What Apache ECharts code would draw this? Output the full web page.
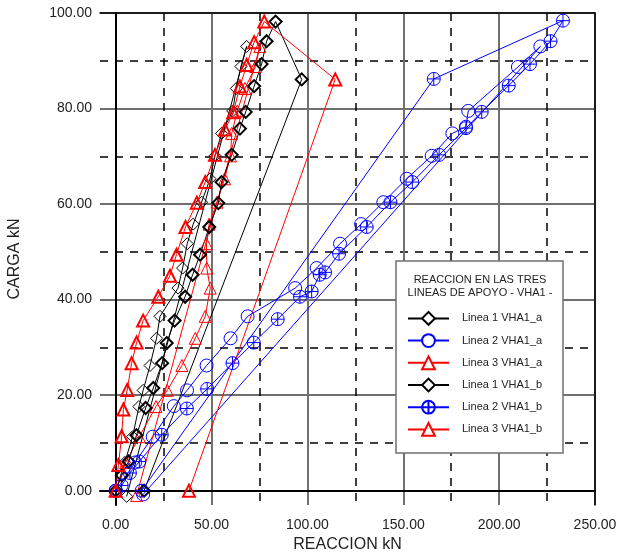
<!DOCTYPE html>
<html>
<head>
<meta charset="utf-8">
<script src="https://cdn.jsdelivr.net/npm/echarts@6/dist/echarts.min.js"></script>
<style>
  html, body { margin: 0; padding: 0; background: #fff; }
  #chart { width: 619px; height: 554px; }
</style>
</head>
<body>
<div id="chart"></div>
<script>
// Linea 1 VHA1_a (black, thin diamonds)
const linea1aX = [0, 4.7, 8.8, 12.1, 14.3, 17.9, 21.3, 23.1, 32.5, 34.9, 37.3, 40.4, 44.8, 49.2, 51.8, 55.2, 61, 62.9, 65.3, 68.3, 5.7];
const linea1aY = [0, 5.9, 11.3, 17.6, 21.0, 26.2, 31.9, 36.5, 42.4, 46.6, 51.7, 55.8, 60.4, 65.3, 70.1, 74.8, 79.5, 84.2, 88.8, 93.0, -1.2];

// Linea 2 VHA1_a (blue, circles)
const linea2aX = [0, 10.1, 19.3, 30.3, 37.2, 47.4, 59.9, 68.8, 93.6, 104.8, 117, 128, 139.6, 151.8, 164.8, 175.6, 182.7, 183.9, 209.8, 221.5, 14.3];
const linea2aY = [0, 5.9, 11.3, 17.7, 21.0, 26.2, 31.9, 36.5, 42.4, 46.6, 51.7, 55.8, 60.4, 65.3, 70.1, 74.8, 76.2, 79.5, 88.7, 93.0, -0.8];

// Linea 3 VHA1_a (red, thin triangles)
const linea3aX = [0, 5.2, 12.3, 21, 26.9, 34.5, 41.5, 46.7, 49.3, 47.5, 47.3, 48.7, 52.8, 56.8, 59.9, 60.5, 63.4, 67.4, 72.9, 75.2, 10.9];
const linea3aY = [0, 5.9, 11.3, 17.6, 21.0, 26.2, 31.9, 36.5, 42.4, 46.6, 51.7, 55.8, 60.4, 65.3, 70.1, 74.8, 79.5, 84.2, 88.8, 93.0, -1];

// Linea 1 VHA1_b (black, bold diamonds)
const linea1bX = [0, 3.2, 6.7, 10.8, 15.6, 19.6, 24.2, 26.6, 30.7, 36.2, 40.1, 44, 48.8, 53.5, 55.2, 60.5, 64.8, 67.8, 72.2, 76.1, 78.7, 83.4, 97, 14.8];
const linea1bY = [0, 3.2, 6.1, 11.6, 17.3, 21.5, 26.7, 30.9, 35.6, 40.6, 45.2, 49.4, 55.2, 60.2, 64.6, 70.3, 75.8, 79.3, 84.7, 89.3, 94.1, 98.2, 86.1, 0];

// Linea 2 VHA1_b (blue, crossed circles)
const linea2bX = [0, 3.1, 7.4, 12.3, 24, 37.1, 47.7, 60.9, 72, 84.5, 96.1, 102.2, 106.4, 109.2, 116.5, 130.9, 143.3, 154.7, 168.7, 182.7, 190.9, 205, 216.1, 226.8, 233.3, 165.9, 13.5];
const linea2bY = [0, 1.1, 3.7, 6.1, 11.7, 17.2, 21.3, 26.7, 31, 35.9, 40.6, 41.7, 45.2, 45.7, 49.6, 55.2, 60.4, 64.6, 70.3, 75.9, 79.3, 84.8, 89.3, 94.1, 98.4, 86.2, 0];

// Linea 3 VHA1_b (red, bold triangles)
const linea3bX = [0, 1.4, 3.1, 4, 6, 8.3, 10.9, 14.3, 22.2, 28.3, 31.7, 36.4, 42.3, 46.7, 51.8, 57, 61.3, 64.8, 68.3, 72.2, 77.5, 114.5, 38.2];
const linea3bY = [0, 5.4, 11.4, 17, 21.1, 26.7, 31, 35.6, 40.6, 45, 49.4, 55.2, 60.3, 64.6, 70.3, 75.6, 79.2, 84.6, 89.1, 93.9, 98.2, 86.1, 0];

// Ticks
const xMajorTicks = [0, 50, 100, 150, 200, 250];
const xMinorTicks = [25, 75, 125, 175, 225];
const yMajorTicks = [0, 20, 40, 60, 80, 100];
const yMinorTicks = [10, 30, 50, 70, 90];

const FONT = '"Liberation Sans", Arial, sans-serif';
const PLUS_CIRCLE = 'path://M0,-10A10,10 0 1,1 0,10A10,10 0 1,1 0,-10ZM-10,0L10,0M0,-10L0,10';

const pairs = (xs, ys) => xs.map((x, i) => [x, ys[i]]);

function makeSeries(name, xs, ys, color, symbol, size, border) {
  return {
    name: name,
    type: 'line',
    data: pairs(xs, ys),
    symbol: symbol,
    symbolSize: size,
    lineStyle: { color: color, width: 1 },
    itemStyle: { color: 'rgba(255,255,255,0)', borderColor: color, borderWidth: border },
    emphasis: { disabled: true },
  };
}

const chart = echarts.init(document.getElementById('chart'));

chart.setOption({
  animation: false,
  grid: { left: 100, right: 24, top: 13, bottom: 49, containLabel: false, outerBoundsMode: 'none' },
  xAxis: [
    {
      type: 'value', min: -8.2, max: 250,
      name: 'REACCION kN', nameLocation: 'middle', nameGap: 30,
      nameTextStyle: { fontFamily: FONT, fontSize: 16, color: '#222' },
      axisLine: { show: true, onZero: true, lineStyle: { color: '#000', width: 2 } },
      axisTick: { show: false, customValues: xMajorTicks },
      axisLabel: {
        customValues: xMajorTicks, margin: 13, fontFamily: FONT, fontSize: 14, color: '#222',
        formatter: (v) => v.toFixed(2),
      },
      splitLine: { show: true, lineStyle: { color: '#707070', width: 2 } },
    },
    {
      type: 'value', min: -8.2, max: 250, position: 'top',
      axisLine: { show: true, onZero: false, lineStyle: { color: '#000', width: 1.5 } },
      axisTick: { show: false, customValues: xMinorTicks },
      axisLabel: { show: false },
      splitLine: { show: true, lineStyle: { color: '#000', width: 1.5, type: [8, 7] } },
    },
  ],
  yAxis: [
    {
      type: 'value', min: -3, max: 100,
      name: 'CARGA kN', nameLocation: 'middle', nameGap: 77, nameRotate: 90,
      nameTextStyle: { fontFamily: FONT, fontSize: 16, color: '#222' },
      axisLine: { show: true, onZero: true, lineStyle: { color: '#000', width: 2 } },
      axisTick: { show: false, customValues: yMajorTicks },
      axisLabel: {
        customValues: yMajorTicks, margin: 8, fontFamily: FONT, fontSize: 14, color: '#222',
        formatter: (v) => v.toFixed(2),
      },
      splitLine: { show: true, lineStyle: { color: '#707070', width: 2 } },
    },
    {
      type: 'value', min: -3, max: 100, position: 'right',
      axisLine: { show: true, onZero: false, lineStyle: { color: '#000', width: 1.5 } },
      axisTick: { show: false, customValues: yMinorTicks },
      axisLabel: { show: false },
      splitLine: { show: true, lineStyle: { color: '#000', width: 1.5, type: [8, 7] } },
    },
  ],
  legend: {
    orient: 'vertical',
    left: 407, top: 311,
    padding: 0,
    itemWidth: 41, itemHeight: 16, itemGap: 7.4,
    selectedMode: false,
    itemStyle: { color: '#fff' },
    textStyle: { fontFamily: FONT, fontSize: 11, color: '#222', padding: [0, 0, 0, 8] },
    data: ['Linea 1 VHA1_a', 'Linea 2 VHA1_a', 'Linea 3 VHA1_a', 'Linea 1 VHA1_b', 'Linea 2 VHA1_b', 'Linea 3 VHA1_b'],
  },
  graphic: [
    {
      type: 'rect', z: 3,
      shape: { x: 396, y: 261, width: 167, height: 192 },
      style: { fill: '#fff', stroke: '#707070', lineWidth: 1.5 },
    },
    {
      type: 'text', z: 5, x: 480, y: 280,
      style: { text: 'REACCION EN LAS TRES', align: 'center', verticalAlign: 'middle', font: '11px ' + FONT, fill: '#222' },
    },
    {
      type: 'text', z: 5, x: 480, y: 293,
      style: { text: 'LINEAS DE APOYO - VHA1 -', align: 'center', verticalAlign: 'middle', font: '11px ' + FONT, fill: '#222' },
    },
  ],
  series: [
    makeSeries('Linea 1 VHA1_a', linea1aX, linea1aY, '#000', 'diamond', 12, 1),
    makeSeries('Linea 2 VHA1_a', linea2aX, linea2aY, '#0000ff', 'circle', 13, 1),
    makeSeries('Linea 3 VHA1_a', linea3aX, linea3aY, '#ff0000', 'triangle', 12, 1),
    makeSeries('Linea 1 VHA1_b', linea1bX, linea1bY, '#000', 'diamond', 12, 2),
    makeSeries('Linea 2 VHA1_b', linea2bX, linea2bY, '#0000ff', PLUS_CIRCLE, 13, 1),
    makeSeries('Linea 3 VHA1_b', linea3bX, linea3bY, '#ff0000', 'triangle', 12, 2),
  ],
});
</script>
</body>
</html>
